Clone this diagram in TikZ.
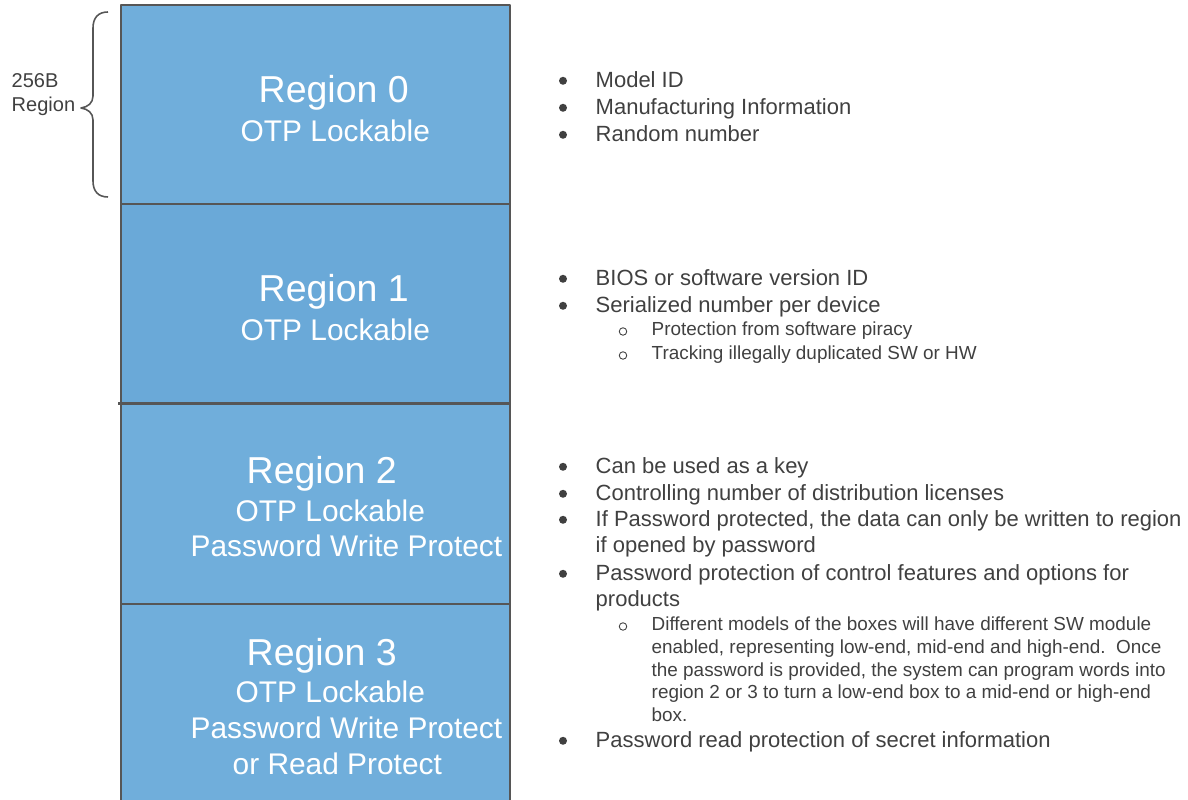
\documentclass[tikz,border=0pt]{standalone}
\usepackage{fontspec}
\setmainfont{Liberation Sans}
\usepackage{xcolor}
\usetikzlibrary{calc}

\definecolor{regfill}{HTML}{70AEDB}
\definecolor{regfilldk}{HTML}{6AA9D8}
\definecolor{edgegray}{HTML}{565656}
\definecolor{txtgray}{HTML}{404040}

\tikzset{
  regbox/.style={draw=edgegray,line width=0.45pt,fill=regfill},
  regname/.style={anchor=base west,inner sep=0pt,text=white,font=\fontsize{10.67}{12}\selectfont},
  reginfo/.style={anchor=base west,inner sep=0pt,text=white,font=\fontsize{8.5}{10}\selectfont},
  sizelbl/.style={anchor=base west,inner sep=0pt,text=txtgray,font=\fontsize{5.7}{7}\selectfont},
  bulltxt/.style={anchor=base west,inner sep=0pt,text=txtgray,font=\fontsize{6.26}{7.5}\selectfont},
  subtxt/.style={anchor=base west,inner sep=0pt,text=txtgray,font=\fontsize{5.38}{6.4}\selectfont},
  bulldot/.style={circle,fill=txtgray,inner sep=0pt,minimum size=0.8mm,yshift=0.72mm},
  subdot/.style={circle,draw=txtgray,line width=0.25pt,inner sep=0pt,minimum size=0.75mm,yshift=0.45mm},
}

\begin{document}
\begin{tikzpicture}[x=0.1mm,y=-0.1mm,line join=round]
  \useasboundingbox (0,0) rectangle (1188,800);
  \clip (0,0) rectangle (1188,800);
  \coordinate (TL) at (121,5);
  \coordinate (D0) at (510,204);
  \coordinate (D1) at (510,404);
  \coordinate (D2) at (510,604);
  \coordinate (BR) at (510,820);
  % memory regions
  \draw[regbox] (TL) rectangle (D0);
  \draw[regbox,fill=regfilldk] (121,204) rectangle (D1);
  \draw[regbox] (121,404) rectangle (D2);
  \draw[regbox] (121,604) rectangle (BR);
  \draw[edgegray,line width=0.85pt] (118,404) -- (D1);
  \node[regname] (r0n) at (258,103) {Region 0};
  \node[reginfo] (r0a) at (240,142) {OTP Lockable};
  \node[regname] (r1n) at (258,302) {Region 1};
  \node[reginfo] (r1a) at (240,341) {OTP Lockable};
  \node[regname] (r2n) at (246,484) {Region 2};
  \node[reginfo] (r2a) at (235,522) {OTP Lockable};
  \node[reginfo] (r2b) at (190,557) {Password Write Protect};
  \node[regname] (r3n) at (246,666) {Region 3};
  \node[reginfo] (r3a) at (235,703) {OTP Lockable};
  \node[reginfo] (r3b) at (190,739) {Password Write Protect};
  \node[reginfo] (r3c) at (232,775) {or Read Protect};
  % size brace
  \coordinate (BT) at (108,12);
  \coordinate (BM) at (81,108);
  \coordinate (BB) at (108,197);
  \draw[edgegray,line width=0.45pt] (BT) .. controls (98,12) and (93,18) .. (93,28) -- (93,96)
    .. controls (93,103) and (88,107) .. (BM) .. controls (88,109) and (93,113) .. (93,120)
    -- (93,181) .. controls (93,191) and (98,197) .. (BB);
  \node[sizelbl] (szA) at (11,88) {256B};
  \node[sizelbl] (szB) at (11,112) {Region};
  % region 0 notes
  \node[bulldot] (p0a) at (563,88) {};
  \node[bulltxt] (n0a) at (595,88) {Model ID};
  \node[bulldot] (p0b) at (563,115) {};
  \node[bulltxt] (n0b) at (595,115) {Manufacturing Information};
  \node[bulldot] (p0c) at (563,142) {};
  \node[bulltxt] (n0c) at (595,142) {Random number};
  % region 1 notes
  \node[bulldot] (p1a) at (563,286) {};
  \node[bulltxt] (n1a) at (595,286) {BIOS or software version ID};
  \node[bulldot] (p1b) at (563,313) {};
  \node[bulltxt] (n1b) at (595,313) {Serialized number per device};
  \node[subdot] (q1a) at (623,336) {};
  \node[subtxt] (m1a) at (651,336) {Protection from software piracy};
  \node[subdot] (q1b) at (623,360) {};
  \node[subtxt] (m1b) at (651,360) {Tracking illegally duplicated SW or HW};
  % region 2/3 notes
  \node[bulldot] (p2a) at (563,474) {};
  \node[bulltxt] (n2a) at (595,474) {Can be used as a key};
  \node[bulldot] (p2b) at (563,501) {};
  \node[bulltxt] (n2b) at (595,501) {Controlling number of distribution licenses};
  \node[bulldot] (p2c) at (563,527) {};
  \node[bulltxt] (n2c) at (595,527) {If Password protected, the data can only be written to region};
  \node[bulltxt] (n2d) at (595,553) {if opened by password};
  \node[bulldot] (p2e) at (563,581) {};
  \node[bulltxt] (n2e) at (595,581) {Password protection of control features and options for};
  \node[bulltxt] (n2f) at (595,607) {products};
  \node[subdot] (q2a) at (623,631) {};
  \node[subtxt] (m2a) at (651,631) {Different models of the boxes will have different SW module};
  \node[subtxt] (m2b) at (651,654) {enabled, representing low-end, mid-end and high-end.\ \ Once};
  \node[subtxt] (m2c) at (651,677) {the password is provided, the system can program words into};
  \node[subtxt] (m2d) at (651,699) {region 2 or 3 to turn a low-end box to a mid-end or high-end};
  \node[subtxt] (m2e) at (651,722) {box.};
  \node[bulldot] (p3a) at (563,748) {};
  \node[bulltxt] (n3a) at (595,748) {Password read protection of secret information};
\end{tikzpicture}
\end{document}
